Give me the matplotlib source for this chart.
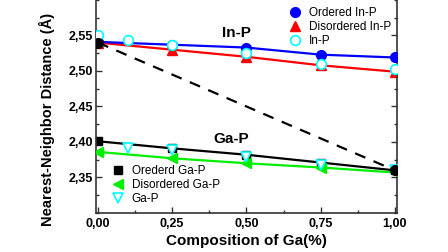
import matplotlib
matplotlib.use("Agg")
import matplotlib.pyplot as plt
from matplotlib.ticker import MultipleLocator, FixedLocator, FuncFormatter

plt.rcParams["font.family"] = ["Liberation Sans", "DejaVu Sans"]

# composition of Ga
x_full = [0.0, 0.25, 0.5, 0.75, 1.0]
x_calc = [0.0, 0.1, 0.25, 0.5, 0.75, 1.0]
x_calc_gap = [0.1, 0.25, 0.5, 0.75, 1.0]

# In-P distances
inp_ordered = [2.541, 2.537, 2.533, 2.523, 2.519]
inp_disordered = [2.540, 2.530, 2.520, 2.508, 2.499]
inp_calc = [2.550, 2.543, 2.537, 2.526, 2.510, 2.503]

# Ga-P distances
gap_ordered = [2.401, 2.391, 2.382, 2.371, 2.360]
gap_disordered = [2.386, 2.377, 2.370, 2.364, 2.357]
gap_calc = [2.391, 2.389, 2.379, 2.368, 2.361]

# Vegard end points
vegard_x = [0.0, 1.0]
vegard_y = [2.540, 2.360]

y_ticks = [2.35, 2.40, 2.45, 2.50, 2.55]

BLUE = "#0000ff"
RED = "#ff0000"
CYAN = "#00ffff"
GREEN = "#00ee00"

fig = plt.figure(figsize=(4.48, 2.52), dpi=100)
ax = fig.add_axes([0.214, 0.155, 0.672, 0.845])

l_dis_in, = ax.plot(x_full, inp_disordered, color=RED, lw=1.6, marker="^",
                    ms=7, mec=RED, mfc=RED, zorder=2)
l_ord_in, = ax.plot(x_full, inp_ordered, color=BLUE, lw=1.6, marker="o",
                    ms=7, mec=BLUE, mfc=BLUE, zorder=3)
l_calc_in, = ax.plot(x_calc, inp_calc, ls="none", marker="o", ms=7,
                     mec=CYAN, mfc="white", mew=1.2, zorder=4)

l_ord_ga, = ax.plot(x_full, gap_ordered, color="black", lw=1.6, marker="s",
                    ms=6, mec="black", mfc="black", zorder=2)
l_dis_ga, = ax.plot(x_full, gap_disordered, color=GREEN, lw=1.6, marker="<",
                    ms=7, mec=GREEN, mfc=GREEN, zorder=3)
l_calc_ga, = ax.plot(x_calc_gap, gap_calc, ls="none", marker="v", ms=7,
                     mec=CYAN, mfc="white", mew=1.2, zorder=4)

ax.plot(vegard_x, vegard_y, color="black", lw=1.6, ls=(0, (5, 4)),
        marker="o", ms=7, zorder=5)

ax.text(0.465, 2.554, "In-P", fontsize=11, fontweight="bold",
        ha="center", va="center")
ax.text(0.45, 2.404, "Ga-P", fontsize=11, fontweight="bold",
        ha="center", va="center")

ax.set_xlim(-0.007, 1.007)
ax.set_ylim(2.30, 2.60)
ax.xaxis.set_major_locator(MultipleLocator(0.25))
ax.xaxis.set_minor_locator(MultipleLocator(0.125))
ax.yaxis.set_major_locator(FixedLocator(y_ticks))
ax.yaxis.set_minor_locator(MultipleLocator(0.025))
comma = FuncFormatter(lambda v, p: f"{v:.2f}".replace(".", ","))
ax.xaxis.set_major_formatter(comma)
ax.yaxis.set_major_formatter(comma)
ax.tick_params(which="both", direction="in", right=True, top=False,
               color="#333333")
ax.tick_params(which="major", length=4, width=1)
ax.tick_params(which="minor", length=2.5, width=1)
ax.tick_params(axis="y", pad=2)
ax.tick_params(axis="x", pad=4)
for lab in ax.get_xticklabels() + ax.get_yticklabels():
    lab.set_fontweight("bold")
    lab.set_fontsize(9)
for s in ax.spines.values():
    s.set_color("#333333")
    s.set_linewidth(1.2)
ax.spines["top"].set_visible(False)

ax.set_xlabel("Composition of Ga(%)", fontsize=11, fontweight="bold")
ax.set_ylabel("Nearest-Neighbor Distance (Å)", fontsize=10.5, fontweight="bold")
ax.xaxis.set_label_coords(0.5, -0.10)
ax.yaxis.set_label_coords(-0.135, 0.44)

leg1 = ax.legend([l_ord_in, l_dis_in, l_calc_in],
                 ["Ordered In-P", "Disordered In-P", "In-P"],
                 loc="upper left", bbox_to_anchor=(0.64, 0.965),
                 frameon=False, fontsize=8.5, borderpad=0, borderaxespad=0,
                 handlelength=1.1, handletextpad=0.6, labelspacing=0.15)
for h in leg1.get_lines():
    h.set_linestyle("none")
ax.add_artist(leg1)
leg2 = ax.legend([l_ord_ga, l_dis_ga, l_calc_ga],
                 ["Orederd Ga-P", "Disordered Ga-P", "Ga-P"],
                 loc="upper left", bbox_to_anchor=(0.052, 0.223),
                 frameon=False, fontsize=8.5, borderpad=0, borderaxespad=0,
                 handlelength=1.1, handletextpad=0.6, labelspacing=0.15)
for h in leg2.get_lines():
    h.set_linestyle("none")

fig.savefig("out.png", dpi=100)
